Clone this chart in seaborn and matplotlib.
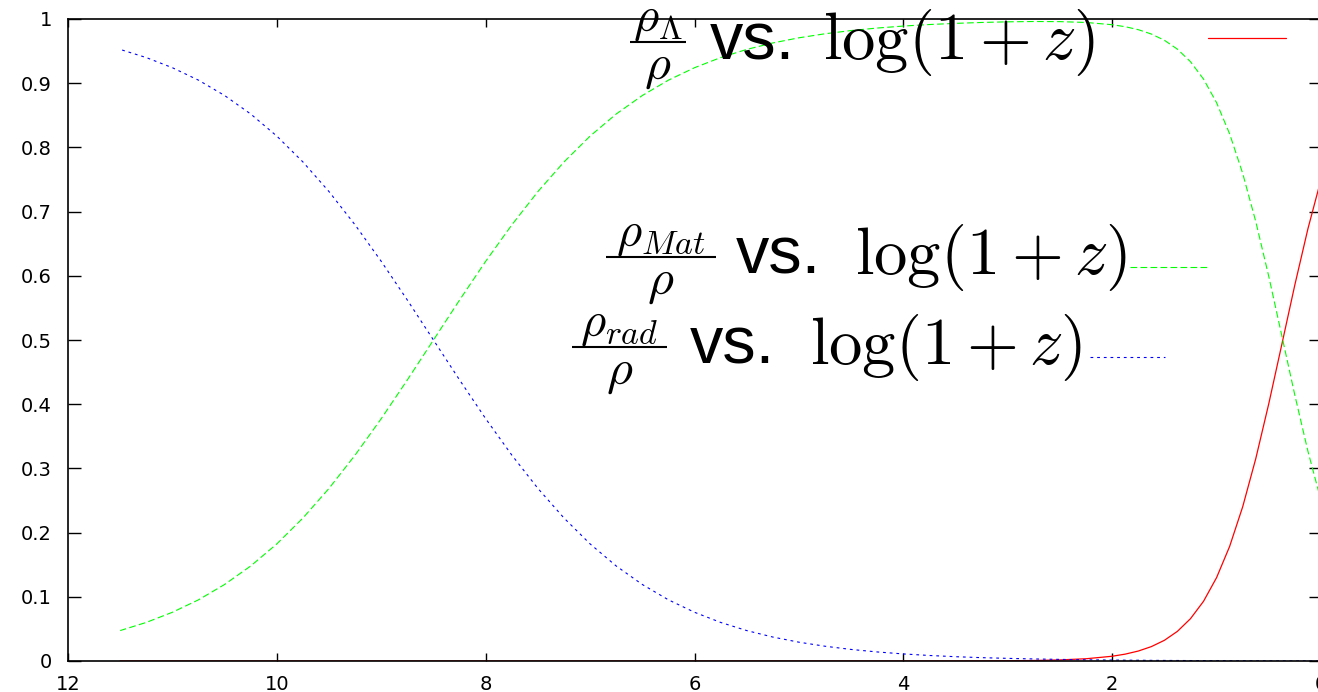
import matplotlib
matplotlib.use("Agg")
import matplotlib.pyplot as plt
from matplotlib.lines import Line2D
import seaborn as sns

# log(1+z), running from the early universe (left) to today (right)
log1pz = [11.5, 11.25, 11.0, 10.75, 10.5, 10.25, 10.0, 9.75, 9.5, 9.25,
          9.0, 8.75, 8.5, 8.25, 8.0, 7.75, 7.5, 7.25, 7.0, 6.75,
          6.5, 6.25, 6.0, 5.75, 5.5, 5.25, 5.0, 4.75, 4.5, 4.25,
          4.0, 3.75, 3.5, 3.25, 3.0, 2.75, 2.5, 2.25, 2.0, 1.875,
          1.75, 1.625, 1.5, 1.375, 1.25, 1.125, 1.0, 0.875, 0.75, 0.625,
          0.5, 0.375, 0.25, 0.125, 0.0]

# density fractions rho_i / rho
frac_rad = [0.9526, 0.9399, 0.9241, 0.9047, 0.8808, 0.8520, 0.8176, 0.7773, 0.7311, 0.6792,
            0.6225, 0.5622, 0.5000, 0.4378, 0.3775, 0.3208, 0.2689, 0.2227, 0.1824, 0.1480,
            0.1192, 0.0953, 0.0759, 0.0601, 0.0474, 0.0373, 0.0293, 0.0230, 0.0180, 0.0141,
            0.0110, 0.0086, 0.0067, 0.0052, 0.0041, 0.0032, 0.0025, 0.0019, 0.0015, 0.0013,
            0.0012, 0.0010, 0.0009, 0.0008, 0.0007, 0.0006, 0.0005, 0.0004, 0.0003, 0.0003,
            0.0002, 0.0001, 0.0001, 0.0001, 0.0001]
frac_mat = [0.0474, 0.0601, 0.0759, 0.0953, 0.1192, 0.1480, 0.1824, 0.2227, 0.2689, 0.3208,
            0.3775, 0.4378, 0.5000, 0.5622, 0.6225, 0.6792, 0.7311, 0.7773, 0.8176, 0.8520,
            0.8808, 0.9047, 0.9241, 0.9399, 0.9526, 0.9627, 0.9707, 0.9770, 0.9820, 0.9859,
            0.9890, 0.9914, 0.9932, 0.9946, 0.9956, 0.9961, 0.9959, 0.9946, 0.9911, 0.9880,
            0.9834, 0.9766, 0.9669, 0.9530, 0.9335, 0.9064, 0.8696, 0.8211, 0.7595, 0.6847,
            0.5989, 0.5065, 0.4137, 0.3266, 0.2500]
frac_lam = [0.0, 0.0, 0.0, 0.0, 0.0, 0.0, 0.0, 0.0, 0.0, 0.0,
            0.0, 0.0, 0.0, 0.0, 0.0, 0.0, 0.0, 0.0, 0.0, 0.0,
            0.0, 0.0, 0.0, 0.0, 0.0, 0.0, 0.0, 0.0, 0.0, 0.0,
            0.0, 0.0, 0.0001, 0.0002, 0.0004, 0.0008, 0.0017, 0.0035, 0.0074, 0.0107,
            0.0155, 0.0224, 0.0322, 0.0462, 0.0659, 0.0930, 0.1299, 0.1785, 0.2402, 0.3150,
            0.4009, 0.4933, 0.5862, 0.6734, 0.7500]

x_ticks = [12, 10, 8, 6, 4, 2, 0]
x_tick_labels = ["12", "10", "8", "6", "4", "2", "0"]
y_ticks = [0, 0.1, 0.2, 0.3, 0.4, 0.5, 0.6, 0.7, 0.8, 0.9, 1]
y_tick_labels = ["0", "0.1", "0.2", "0.3", "0.4", "0.5", "0.6", "0.7", "0.8", "0.9", "1"]

# key entries: ratio numerator over rho, connecting word, abscissa
key_numerators = [r"$\rho_\Lambda$", r"$\rho_{Mat}$", r"$\rho_{rad}$"]
key_denominator = r"$\rho$"
key_word = "vs."
key_abscissa = r"$\log(1+z)$"

sns.set_theme(style="white")
plt.rcParams["font.family"] = ["Liberation Sans", "DejaVu Sans"]
plt.rcParams["mathtext.fontset"] = "cm"

W, H = 1318, 692
fig = plt.figure(figsize=(W / 100, H / 100), dpi=100)
ax = fig.add_axes([68 / W, 31 / H, 1253 / W, 642 / H])

red_style = dict(color="#ff0000", linewidth=0.9, linestyle="-")
green_style = dict(color="#00ff00", linewidth=0.8, linestyle=(0, (6, 3)))
blue_style = dict(color="#0000ff", linewidth=0.8, linestyle=(0, (2.5, 3.5)))

sns.lineplot(x=log1pz, y=frac_lam, ax=ax, **red_style)
sns.lineplot(x=log1pz, y=frac_mat, ax=ax, **green_style)
sns.lineplot(x=log1pz, y=frac_rad, ax=ax, **blue_style)

ax.set_xlim(12, 0)
ax.set_ylim(0, 1)
ax.set_xticks(x_ticks, x_tick_labels)
ax.set_yticks(y_ticks, y_tick_labels)
ax.set_xlabel("")
ax.set_ylabel("")

for sp in ax.spines.values():
    sp.set_color("black")
    sp.set_linewidth(1.2)
ax.tick_params(axis="x", direction="in", length=5.8, width=1.0, top=True, bottom=True,
               pad=10, labelsize=14, colors="black")
ax.tick_params(axis="y", direction="in", length=9, width=1.0, left=True, right=True,
               pad=11.5, labelsize=14, colors="black")
for lab in ax.get_xticklabels() + ax.get_yticklabels():
    lab.set_fontfamily("DejaVu Sans")

# key: text pieces with their line samples, placed in figure pixels
def fx(px):
    return px / W

def fy(py):
    return 1 - py / H

key_baselines = [59, 274, 364]
key_bar_y = [42, 257, 347]
key_bar_x = [(630, 686), (606, 716), (572, 667)]
key_word_x = [710, 736, 690]
key_abscissa_right = [1095, 1127, 1082]
key_sample_pos = [(1208, 1286, 38), (1130, 1210, 267), (1090, 1165, 357)]
key_styles = [red_style, green_style, blue_style]

for i, num in enumerate(key_numerators):
    base = key_baselines[i]
    bar_y = key_bar_y[i]
    bx0, bx1 = key_bar_x[i]
    cx = (bx0 + bx1) / 2
    fig.text(fx(cx), fy(bar_y - 11), num, ha="center", va="baseline",
             fontsize=35, color="black", zorder=5)
    fig.add_artist(Line2D([fx(bx0), fx(bx1)], [fy(bar_y), fy(bar_y)],
                          transform=fig.transFigure, color="black", linewidth=1.5,
                          solid_capstyle="butt", zorder=5))
    fig.text(fx(cx), fy(bar_y + 37), key_denominator, ha="center", va="baseline",
             fontsize=36, color="black", zorder=5)
    fig.text(fx(key_word_x[i]), fy(base), key_word, ha="left", va="baseline",
             fontsize=48, color="black", zorder=5)
    fig.text(fx(key_abscissa_right[i]), fy(base), key_abscissa, ha="right", va="baseline",
             fontsize=48, color="black", zorder=5)
    x0, x1, sy = key_sample_pos[i]
    fig.add_artist(Line2D([fx(x0), fx(x1)], [fy(sy), fy(sy)],
                          transform=fig.transFigure, **key_styles[i]))

fig.savefig("out.png", dpi=100)
